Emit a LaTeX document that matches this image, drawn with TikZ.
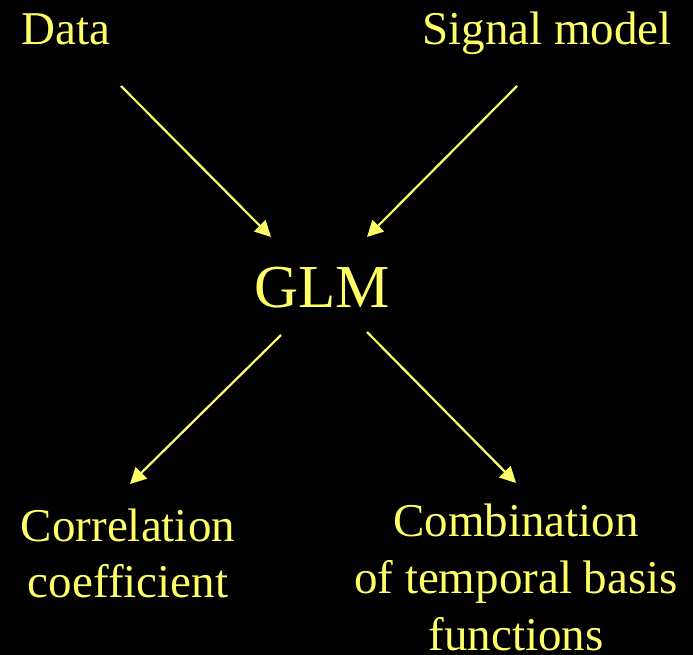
\documentclass[tikz,border=0pt]{standalone}
\usepackage{fontspec}
\setmainfont{Liberation Serif}
\usetikzlibrary{arrows.meta}
\definecolor{txtyellow}{HTML}{FFFF66}
\begin{document}
\begin{tikzpicture}[x=1pt,y=-1pt,
  lbl/.style={text=txtyellow,anchor=base,inner sep=0pt,font=\fontsize{47}{57}\selectfont},
  big/.style={text=txtyellow,anchor=base,inner sep=0pt,font=\fontsize{61}{70}\selectfont},
  conn/.style={draw=txtyellow,line width=2.2pt,-{Triangle[length=16pt,width=16pt]}}]
\fill[black] (0,0) rectangle (693,655);
\useasboundingbox (0,0) rectangle (693,655);
\node[lbl] (data) at (66,45) {Data};
\node[lbl] (signal) at (547,45) {Signal model};
\node[big] (glm) at (322,307) {GLM};
\node[lbl] (corr1) at (128,541) {Correlation};
\node[lbl] (corr2) at (128,597) {coefficient};
\node[lbl] (comb1) at (516,536) {Combination};
\node[lbl] (comb2) at (516,593) {of temporal basis};
\node[lbl] (comb3) at (516,650) {functions};
\coordinate (dataS) at (121,86);
\coordinate (glmIn1) at (271,237);
\coordinate (signalS) at (517,86);
\coordinate (glmIn2) at (367,237);
\coordinate (glmOut1) at (281,335);
\coordinate (corrE) at (130,484);
\coordinate (glmOut2) at (367,332);
\coordinate (combE) at (516,483);
\draw[conn] (dataS) -- (glmIn1);
\draw[conn] (signalS) -- (glmIn2);
\draw[conn] (glmOut1) -- (corrE);
\draw[conn] (glmOut2) -- (combE);
\end{tikzpicture}
\end{document}
